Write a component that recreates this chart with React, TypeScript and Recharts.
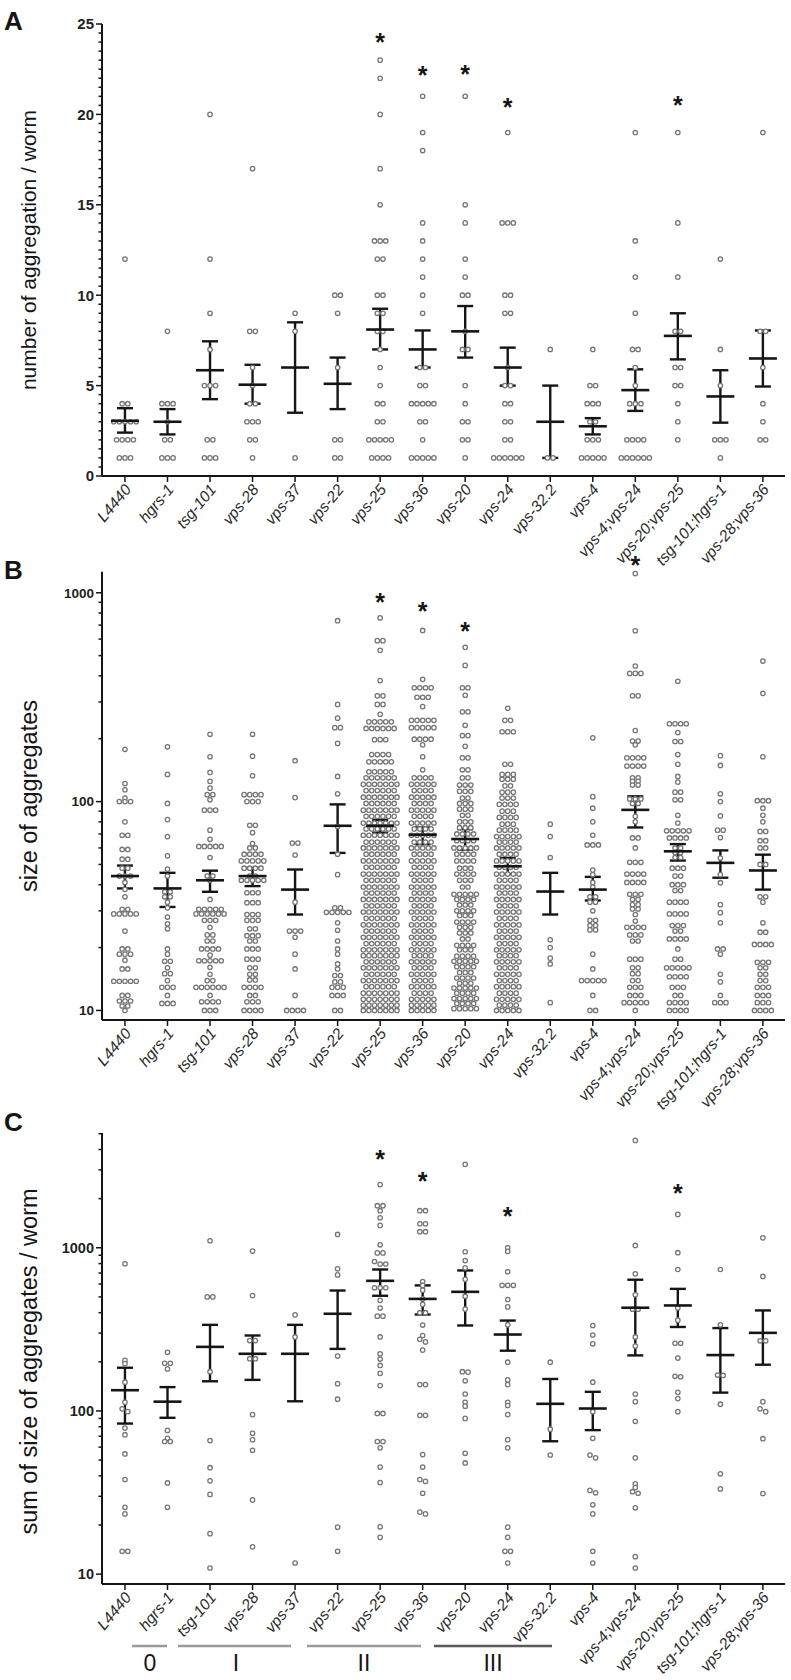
import React from "react";
import { ComposedChart, Scatter, XAxis, YAxis, ErrorBar, ReferenceLine } from "recharts";

const FONT = '"Liberation Sans", Arial, sans-serif';
const INK = "#151515";

const CATEGORIES = [
  "L4440", "hgrs-1", "tsg-101", "vps-28", "vps-37", "vps-22", "vps-25", "vps-36",
  "vps-20", "vps-24", "vps-32.2", "vps-4", "vps-4;vps-24", "vps-20;vps-25", "tsg-101;hgrs-1", "vps-28;vps-36",
];
const X_TICKS = CATEGORIES.map((_, i) => i + 1);
const X_DOMAIN: [number, number] = [0.46, 16.52];

type Row = [number, number]; // [value, how many dots at that value]

// ---- A: number of aggregation / worm ----
const A_L4440: Row[] = [[12, 1], [4, 2], [3, 5], [2, 4], [1, 3]];
const A_HGRS1: Row[] = [[8, 1], [4, 3], [3, 1], [2, 2], [1, 3]];
const A_TSG101: Row[] = [[20, 1], [12, 1], [9, 1], [7, 1], [5, 3], [2, 2], [1, 3]];
const A_VPS28: Row[] = [[17, 1], [8, 2], [6, 1], [5, 1], [4, 2], [3, 3], [2, 2], [1, 1]];
const A_VPS37: Row[] = [[9, 1], [8, 1], [1, 1]];
const A_VPS22: Row[] = [[10, 2], [9, 1], [6, 1], [2, 2], [1, 2]];
const A_VPS25: Row[] = [[23, 1], [22, 1], [20, 1], [17, 1], [15, 1], [13, 3], [12, 2], [10, 2], [9, 2], [8, 2], [7, 1], [6, 1], [5, 1], [4, 2], [3, 2], [2, 5], [1, 4]];
const A_VPS36: Row[] = [[21, 1], [19, 1], [18, 1], [14, 1], [13, 1], [12, 1], [11, 1], [10, 1], [9, 1], [6, 2], [5, 2], [4, 5], [3, 2], [2, 1], [1, 5]];
const A_VPS20: Row[] = [[21, 1], [15, 1], [14, 1], [12, 1], [11, 1], [10, 2], [8, 1], [7, 2], [5, 1], [4, 1], [3, 2], [2, 2], [1, 1]];
const A_VPS24: Row[] = [[19, 1], [14, 3], [10, 2], [9, 2], [6, 1], [5, 2], [4, 2], [3, 2], [2, 2], [1, 6]];
const A_VPS322: Row[] = [[7, 1], [1, 2]];
const A_VPS4: Row[] = [[7, 1], [5, 2], [4, 3], [3, 2], [2, 3], [1, 5]];
const A_V4V24: Row[] = [[19, 1], [13, 1], [11, 1], [9, 1], [7, 2], [6, 1], [5, 1], [4, 3], [2, 4], [1, 6]];
const A_V20V25: Row[] = [[19, 1], [14, 1], [11, 1], [8, 2], [6, 2], [5, 2], [4, 1], [3, 1], [2, 1]];
const A_TSGHGRS: Row[] = [[12, 1], [7, 1], [5, 1], [2, 3], [1, 1]];
const A_V28V36: Row[] = [[19, 1], [8, 2], [6, 1], [4, 1], [3, 1], [2, 2]];
const A_MEAN = [3.05, 3.0, 5.85, 5.05, 6.0, 5.1, 8.1, 7.0, 8.0, 6.0, 3.0, 2.75, 4.75, 7.75, 4.4, 6.5];
const A_SEM_LO = [2.4, 2.3, 4.25, 4.0, 3.5, 3.7, 7.0, 6.0, 6.55, 5.0, 1.0, 2.3, 3.6, 6.45, 2.95, 4.95];
const A_SEM_HI = [3.75, 3.7, 7.45, 6.15, 8.5, 6.55, 9.25, 8.05, 9.4, 7.1, 5.0, 3.2, 5.9, 9.0, 5.85, 8.05];
const A_STAR_CAT = [7, 8, 9, 10, 14];
const A_STAR_Y = [24.3, 22.45, 22.5, 20.7, 20.8];
const A_MAJOR = [0, 5, 10, 15, 20, 25];

// ---- B: size of aggregates ----
const B_L4440: Row[] = [[178, 1], [122, 1], [114, 1], [104, 1], [100, 3], [80, 1], [69, 2], [59, 2], [53, 2], [48, 2], [44, 3], [41, 1], [38, 1], [35, 1], [30.5, 2], [29, 5], [24, 1], [19.7, 2], [18.6, 3], [17.4, 1], [15.8, 2], [13.8, 5], [11.8, 2], [11.1, 3], [10.5, 2], [10, 1]];
const B_HGRS1: Row[] = [[183, 1], [135, 1], [98, 1], [82, 1], [68, 1], [55, 1], [47.5, 1], [44, 1], [37, 2], [35, 2], [33, 1], [31, 1], [28, 1], [26, 1], [24.6, 1], [19.7, 1], [18.6, 1], [17.2, 2], [16, 1], [15, 2], [13.9, 1], [12.9, 3], [11.8, 1], [10.8, 3]];
const B_TSG101: Row[] = [[210, 1], [164, 1], [138, 1], [125, 1], [116, 1], [108, 2], [102, 1], [91, 3], [73, 1], [66, 1], [61, 5], [54, 1], [44, 2], [42, 1], [34, 1], [30.5, 5], [29, 6], [27, 3], [25, 1], [23, 2], [21.5, 2], [19.7, 4], [18.4, 1], [17.3, 5], [16.1, 1], [14.9, 1], [13.9, 2], [12.9, 6], [11.8, 1], [11, 4], [10, 3]];
const B_VPS28: Row[] = [[210, 1], [165, 1], [133, 1], [108, 4], [100, 3], [77, 2], [71, 1], [63, 1], [60, 2], [56, 4], [52, 5], [48, 4], [44, 2], [42, 5], [36.6, 3], [32.8, 3], [28.8, 3], [27, 3], [24.6, 2], [22.8, 3], [21.5, 2], [19.7, 3], [17.6, 3], [16, 2], [14.9, 2], [14, 2], [12.9, 4], [11.8, 2], [11, 3], [10, 4]];
const B_VPS37: Row[] = [[157, 1], [104.5, 1], [63.3, 2], [55.5, 1], [33, 1], [24, 3], [22.4, 1], [18.6, 1], [15.8, 1], [11.8, 1], [10, 4]];
const B_VPS22: Row[] = [[735, 1], [292, 1], [251, 1], [226, 2], [190, 1], [132, 1], [109, 1], [76, 1], [56, 1], [44.7, 1], [31, 2], [29.5, 5], [26.3, 1], [24.2, 1], [21.5, 1], [19.7, 1], [18.6, 1], [16.7, 1], [15.8, 1], [14.7, 2], [13.7, 2], [12.9, 3], [11.8, 3], [10, 2]];
const B_VPS25: Row[] = [[758, 1], [590, 2], [530, 1], [380, 1], [321, 2], [292, 2], [262, 1], [241, 5], [224, 6], [198, 3], [168, 4], [155, 5], [139, 5], [130, 6], [121, 7], [113, 6], [105, 7], [98, 6], [91, 7], [85, 6], [79, 7], [74, 6], [69, 7], [64, 6], [60, 7], [56, 6], [52, 7], [48.5, 6], [45, 7], [42, 6], [39, 7], [36.5, 6], [34, 7], [31.7, 6], [29.6, 7], [27.6, 6], [25.7, 7], [24, 6], [22.4, 7], [20.9, 6], [19.5, 7], [18.3, 7], [17.1, 6], [16, 7], [14.9, 6], [13.9, 7], [13, 6], [12.1, 7], [11.3, 7], [10.6, 7], [10, 7]];
const B_VPS36: Row[] = [[660, 1], [385, 1], [351, 4], [316, 3], [285, 1], [245, 5], [226, 5], [199, 4], [187, 1], [164, 1], [142, 1], [130, 4], [121, 5], [113, 4], [105, 5], [98, 4], [91, 5], [85, 4], [79, 5], [74, 4], [69, 5], [64, 4], [60, 5], [56, 4], [52, 5], [48.5, 4], [45, 5], [42, 4], [39, 5], [36.5, 4], [34, 5], [31.7, 4], [29.6, 5], [27.6, 4], [25.7, 5], [24, 4], [22.4, 5], [20.9, 4], [19.5, 5], [18.3, 4], [17.1, 5], [16, 4], [14.9, 5], [13.9, 4], [13, 5], [12.1, 4], [11.3, 5], [10.6, 5], [10, 5]];
const B_VPS20: Row[] = [[548, 1], [449, 1], [351, 2], [323, 1], [269, 2], [232, 1], [207, 2], [184, 1], [162, 2], [142, 2], [130, 2], [120, 3], [112, 3], [104, 2], [98, 3], [92, 3], [86, 2], [80, 3], [75, 3], [70, 4], [65, 4], [60, 5], [56, 4], [52, 4], [48, 3], [45, 4], [42, 3], [39, 2], [36, 5], [34, 4], [32, 3], [30, 4], [28.5, 3], [26.5, 4], [25, 3], [23.5, 3], [22, 2], [20.5, 4], [19.5, 3], [18.2, 4], [17.2, 5], [16.2, 4], [15.2, 3], [14.3, 4], [13.5, 3], [12.8, 5], [12.1, 4], [11.4, 5], [10.8, 4], [10.2, 5]];
const B_VPS24: Row[] = [[280, 1], [245, 2], [216, 3], [151, 2], [135, 3], [128, 3], [119, 2], [111, 3], [104, 3], [97, 4], [90, 3], [84, 4], [78, 3], [73, 4], [68, 5], [64, 4], [60, 5], [56, 4], [52, 5], [48.5, 4], [45, 5], [42, 4], [39, 5], [36.5, 4], [34, 5], [31.7, 4], [29.6, 5], [27.6, 4], [25.7, 5], [24, 4], [22.4, 5], [20.9, 4], [19.5, 5], [18.3, 4], [17.1, 5], [16, 4], [14.9, 5], [13.9, 4], [13, 5], [12.1, 4], [11.3, 5], [10.6, 4], [10, 5]];
const B_VPS322: Row[] = [[78, 1], [68, 1], [54, 1], [21.8, 1], [20, 1], [17.8, 1], [16.7, 1], [10.9, 1]];
const B_VPS4: Row[] = [[202, 1], [105.6, 1], [93, 1], [80, 1], [69, 1], [62, 3], [47, 1], [44.7, 1], [41, 1], [39, 1], [35, 2], [33, 2], [30, 1], [27, 2], [25.5, 2], [24.3, 2], [18.6, 1], [15.8, 1], [13.9, 5], [11.8, 1], [10, 2]];
const B_V4V24: Row[] = [[1236, 1], [658, 1], [446, 1], [411, 3], [321, 2], [219, 1], [195, 2], [187, 1], [162, 4], [148, 4], [130, 2], [125, 2], [120, 2], [103, 3], [98, 2], [85, 1], [80, 1], [67, 2], [60, 1], [51.2, 3], [45, 4], [41, 4], [36, 3], [34, 2], [32.1, 2], [30.6, 2], [28.8, 1], [26.8, 1], [25, 4], [23, 3], [21.5, 2], [17.6, 3], [16, 2], [15, 2], [13.9, 2], [12.9, 3], [11.8, 3], [10.9, 5], [10, 1]];
const B_V20V25: Row[] = [[377, 1], [236, 4], [214, 1], [194, 2], [168, 1], [151, 1], [132, 1], [124, 1], [111, 2], [102, 2], [86, 1], [79, 1], [72.5, 5], [67, 4], [60, 2], [57, 2], [54, 2], [48, 3], [44, 2], [40, 3], [37.5, 2], [33, 4], [29, 4], [25.5, 3], [24, 2], [22, 4], [19.7, 1], [17.6, 2], [16, 5], [14.5, 4], [12.9, 3], [11.8, 2], [10.9, 4], [10, 4]];
const B_TSGHGRS: Row[] = [[166, 1], [149, 1], [109, 1], [100, 1], [85.4, 1], [73, 2], [67.3, 1], [53.7, 1], [44.7, 1], [40.9, 1], [32.1, 1], [29.4, 1], [26.3, 1], [19.7, 2], [18.6, 1], [14.9, 1], [13.7, 1], [11.8, 1], [10.9, 3]];
const B_V28V36: Row[] = [[471, 1], [330, 1], [164, 1], [101, 3], [93, 1], [86, 1], [80, 1], [72, 2], [65, 2], [60, 2], [50, 2], [35, 2], [33, 1], [26.3, 1], [23.7, 2], [20.7, 4], [17, 3], [16, 2], [14.9, 2], [13.9, 2], [12.9, 3], [11.8, 3], [10.9, 3], [10, 4]];
const B_MEAN = [44, 38.4, 42, 44, 37.9, 76.6, 76.6, 69.4, 66.2, 49, 37.1, 37.9, 91.3, 57.8, 50.9, 46.8];
const B_SEM_LO = [38.4, 31.3, 37, 39.4, 28.8, 56.8, 71, 62.6, 58.9, 45, 28.8, 33.6, 75.2, 52.2, 43.2, 37.9];
const B_SEM_HI = [49.4, 45.6, 46.7, 48.1, 47.3, 97, 81.8, 75.2, 73.8, 53.7, 45.6, 43.6, 106, 62.6, 58.4, 55.7];
const B_STAR_CAT = [7, 8, 9, 13];
const B_STAR_Y = [957, 867, 695, 1439];
const B_MAJOR = [10, 100, 1000];

// ---- C: sum of size of aggregates / worm ----
const C_L4440 = [798, 204, 195, 150, 113, 103, 99, 78.5, 71.5, 54.5, 38, 25.7, 23.4, 13.8, 13.8];
const C_HGRS1 = [229, 196, 196, 181, 76, 68, 65, 65, 36.2, 25.7];
const C_TSG101 = [1104, 500, 500, 174, 65.8, 44.9, 37.3, 30.8, 17.7, 10.9];
const C_VPS28 = [955, 509, 270, 270, 209, 209, 95, 73, 66.7, 57.4, 28.5, 14.7];
const C_VPS37 = [388, 284, 11.7];
const C_VPS22 = [1207, 743, 682, 217, 147, 118, 19.4, 13.8];
const C_VPS25 = [2440, 1811, 1811, 1687, 1527, 1371, 1043, 930, 930, 824, 795, 795, 569, 569, 569, 476, 427, 381, 381, 284, 224, 208, 190, 170, 143, 96.5, 96.5, 65, 65, 59.4, 45.3, 36.4, 19.5, 16.8];
const C_VPS36 = [1687, 1687, 1403, 1403, 1254, 1254, 621, 588, 550, 486, 450, 400, 400, 336, 290, 275, 265, 236, 145, 145, 94, 94, 54, 45.3, 38, 37, 31.3, 24, 23.4];
const C_VPS20 = [3245, 945, 835, 753, 641, 505, 421, 174, 173, 153, 127, 113, 107, 90, 55, 48];
const C_VPS24 = [1000, 950, 713, 589, 589, 589, 482, 434, 337, 199, 155, 145, 113, 108, 95, 66.7, 59.4, 19.4, 16.8, 13.8, 13.8, 11.7];
const C_VPS322 = [199, 77.3, 53.7];
const C_VPS4 = [334, 292, 258, 150, 99, 68, 53.7, 51.6, 32.6, 31.5, 26.6, 23.4, 13.8, 11.7];
const C_V4V24 = [4550, 1033, 692, 515, 420, 420, 284, 250, 127, 114, 86.4, 51.6, 35.8, 34, 32, 31.3, 25.5, 12.8, 10.9];
const C_V20V25 = [1601, 933, 736, 428, 360, 260, 260, 211, 163, 162, 130, 119, 99];
const C_TSGHGRS = [736, 337, 166, 165, 110, 41.2, 33.3];
const C_V28V36 = [1150, 667, 269, 269, 114, 103, 99, 67.6, 31.2];
const C_MEAN = [134, 114, 247, 224, 224, 394, 627, 486, 537, 294, 110.6, 103.5, 429, 443, 220, 301];
const C_SEM_LO = [83.7, 90.8, 152, 155, 114.6, 240, 508, 390, 334, 234, 65.2, 76.3, 219, 327, 129.5, 192];
const C_SEM_HI = [184, 140, 337, 290, 337, 547, 736, 588, 726, 358, 157, 131, 637, 560, 322, 413];
const C_STAR_CAT = [7, 8, 10, 14];
const C_STAR_Y = [3778, 2767, 1670, 2333];
const C_MAJOR = [10, 100, 1000];

const GROUP_LABELS = ["0", "I", "II", "III"];

// ---- helpers ----
type Pt = { x: number; y: number };
type MeanPt = { x: number; y: number; err: [number, number] };
const STEP = 0.132; // horizontal dot spacing in category units

// spread dots that share (nearly) the same height side by side
function swarm(cols: Row[][], toPx: (v: number) => number): Pt[] {
  const out: Pt[] = [];
  cols.forEach((rows, i) => {
    const vals = rows.flatMap(([v, n]) => Array.from({ length: n }, () => v)).sort((a, b) => b - a);
    let group: number[] = [];
    const flush = () => {
      group.forEach((v, k) => out.push({ x: i + 1 + (k - (group.length - 1) / 2) * STEP, y: v }));
      group = [];
    };
    for (const v of vals) {
      if (group.length && toPx(group[0]) - toPx(v) > 3) flush();
      group.push(v);
    }
    flush();
  });
  return out;
}

const meanPts = (m: number[], lo: number[], hi: number[]): MeanPt[] =>
  m.map((y, i) => ({ x: i + 1, y, err: [y - lo[i], hi[i] - y] }));
const starPts = (cat: number[], ys: number[]): Pt[] => cat.map((c, i) => ({ x: c, y: ys[i] }));
const logTicks = (max: number) => {
  const t: number[] = [];
  for (let d = 10; d <= max; d *= 10) for (let k = 1; k <= 9; k++) if (k * d <= max) t.push(k * d);
  return t;
};

const A_DOTS = swarm(
  [A_L4440, A_HGRS1, A_TSG101, A_VPS28, A_VPS37, A_VPS22, A_VPS25, A_VPS36, A_VPS20, A_VPS24, A_VPS322, A_VPS4, A_V4V24, A_V20V25, A_TSGHGRS, A_V28V36],
  (v) => v * 18.08
);
const B_DOTS = swarm(
  [B_L4440, B_HGRS1, B_TSG101, B_VPS28, B_VPS37, B_VPS22, B_VPS25, B_VPS36, B_VPS20, B_VPS24, B_VPS322, B_VPS4, B_V4V24, B_V20V25, B_TSGHGRS, B_V28V36],
  (v) => Math.log10(v) * 209
);
const C_DOTS = swarm(
  [C_L4440, C_HGRS1, C_TSG101, C_VPS28, C_VPS37, C_VPS22, C_VPS25, C_VPS36, C_VPS20, C_VPS24, C_VPS322, C_VPS4, C_V4V24, C_V20V25, C_TSGHGRS, C_V28V36].map(
    (vals) => vals.map((v) => [v, 1] as Row)
  ),
  (v) => Math.log10(v) * 163
);

// ---- marks ----
const Dot = (s: any) => <circle cx={s.cx} cy={s.cy} r={2.2} fill="#ffffff" stroke="#767676" strokeWidth={1.3} />;
const MeanMark = (s: any) => <line x1={s.cx - 14} x2={s.cx + 14} y1={s.cy} y2={s.cy} stroke={INK} strokeWidth={2.6} />;
const Star = (s: any) => (
  <text x={s.cx} y={s.cy + 14} textAnchor="middle" fontSize={25} fontWeight="bold" fill={INK}>
    *
  </text>
);

function XTick(t: any) {
  const ax = t.x + 7;
  const ay = t.y + 8;
  return (
    <text x={ax} y={ay} textAnchor="end" transform={`rotate(-50, ${ax}, ${ay})`} fontSize={15.5} fontStyle="italic" fill="#2a2a2a">
      {CATEGORIES[t.payload.value - 1]}
    </text>
  );
}

function YTick(t: any) {
  const major = t.majors.includes(t.payload.value);
  return (
    <g>
      <line x1={t.x - (major ? 6 : 3.5)} x2={t.x} y1={t.y} y2={t.y} stroke={INK} strokeWidth={1.5} />
      {major && (
        <text x={t.x - 8} y={t.y} dy="0.36em" textAnchor="end" fontSize={t.fontSize} fontWeight="bold" fill="#222">
          {t.payload.value}
        </text>
      )}
    </g>
  );
}

type PanelProps = {
  top: number;
  height: number;
  marginTop: number;
  xAxisHeight: number;
  dots: Pt[];
  means: MeanPt[];
  stars: Pt[];
  domain: [number, number];
  log: boolean;
  ticks: number[];
  majors: number[];
  tickFont: number;
  title: string;
  titleSize: number;
  titleDy: number;
  axisTop?: number;
};

function Panel(p: PanelProps) {
  return (
    <div style={{ position: "absolute", left: 0, top: p.top }}>
      <ComposedChart width={791} height={p.height} margin={{ top: p.marginTop, right: 6, bottom: 0, left: 0 }}>
        <XAxis
          type="number"
          dataKey="x"
          domain={X_DOMAIN}
          ticks={X_TICKS}
          interval={0}
          height={p.xAxisHeight}
          tickSize={6}
          tickMargin={0}
          axisLine={{ stroke: INK, strokeWidth: 2 }}
          tickLine={{ stroke: INK, strokeWidth: 1.5 }}
          tick={(t: any) => <XTick {...t} />}
        />
        <YAxis
          type="number"
          dataKey="y"
          scale={p.log ? "log" : "linear"}
          domain={p.domain}
          ticks={p.ticks}
          interval={0}
          width={102}
          tickSize={0}
          tickMargin={0}
          tickLine={false}
          axisLine={p.axisTop ? false : { stroke: INK, strokeWidth: 2 }}
          tick={(t: any) => <YTick {...t} majors={p.majors} fontSize={p.tickFont} />}
          label={{ value: p.title, angle: -90, position: "center", dx: -22, dy: p.titleDy, fontSize: p.titleSize, fill: INK }}
        />
        {p.axisTop ? (
          <ReferenceLine
            segment={[
              { x: X_DOMAIN[0], y: p.domain[0] },
              { x: X_DOMAIN[0], y: p.axisTop },
            ]}
            stroke={INK}
            strokeWidth={2}
          />
        ) : null}
        <Scatter data={p.dots} isAnimationActive={false} shape={Dot} />
        <Scatter data={p.means} isAnimationActive={false} shape={MeanMark}>
          <ErrorBar dataKey="err" direction="y" width={8} stroke={INK} strokeWidth={2.4} />
        </Scatter>
        <Scatter data={p.stars} isAnimationActive={false} shape={Star} />
      </ComposedChart>
    </div>
  );
}

export default function App() {
  const aTicks = Array.from({ length: 51 }, (_, i) => i * 0.5);
  return (
    <div style={{ position: "absolute", left: 0, top: 0, width: 791, height: 1680, background: "#fff", fontFamily: FONT }}>
      <Panel
        top={0}
        height={580}
        marginTop={24}
        xAxisHeight={104}
        dots={A_DOTS}
        means={meanPts(A_MEAN, A_SEM_LO, A_SEM_HI)}
        stars={starPts(A_STAR_CAT, A_STAR_Y)}
        domain={[0, 25]}
        log={false}
        ticks={aTicks}
        majors={A_MAJOR}
        tickFont={15}
        title="number of aggregation / worm"
        titleSize={21}
        titleDy={0}
      />
      <Panel
        top={540}
        height={580}
        marginTop={16}
        xAxisHeight={100}
        dots={B_DOTS}
        means={meanPts(B_MEAN, B_SEM_LO, B_SEM_HI)}
        stars={starPts(B_STAR_CAT, B_STAR_Y)}
        domain={[9, 1500]}
        log
        ticks={logTicks(1000)}
        majors={B_MAJOR}
        tickFont={13.5}
        title="size of aggregates"
        titleSize={23.5}
        titleDy={8}
        axisTop={1260}
      />
      <Panel
        top={1120}
        height={560}
        marginTop={13}
        xAxisHeight={96}
        dots={C_DOTS}
        means={meanPts(C_MEAN, C_SEM_LO, C_SEM_HI)}
        stars={starPts(C_STAR_CAT, C_STAR_Y)}
        domain={[8.7, 5050]}
        log
        ticks={logTicks(5000)}
        majors={C_MAJOR}
        tickFont={14.5}
        title="sum of size of aggregates / worm"
        titleSize={23.5}
        titleDy={3}
      />
      <svg width={791} height={1680} style={{ position: "absolute", left: 0, top: 0, pointerEvents: "none" }}>
        <text x={4} y={30} fontSize={26} fontWeight="bold" fill={INK}>A</text>
        <text x={4} y={579} fontSize={26} fontWeight="bold" fill={INK}>B</text>
        <text x={4} y={1131} fontSize={26} fontWeight="bold" fill={INK}>C</text>
        <line x1={132} x2={167} y1={1646} y2={1646} stroke="#9a9a9a" strokeWidth={2.5} />
        <line x1={178} x2={291} y1={1646} y2={1646} stroke="#9a9a9a" strokeWidth={2.5} />
        <line x1={307} x2={421} y1={1646} y2={1646} stroke="#9a9a9a" strokeWidth={2.5} />
        <line x1={434} x2={552} y1={1646} y2={1646} stroke="#5a5a5a" strokeWidth={2.5} />
        <text x={150} y={1671} fontSize={23} textAnchor="middle" fill={INK}>{GROUP_LABELS[0]}</text>
        <text x={236} y={1671} fontSize={23} textAnchor="middle" fill={INK}>{GROUP_LABELS[1]}</text>
        <text x={364} y={1671} fontSize={23} textAnchor="middle" fill={INK}>{GROUP_LABELS[2]}</text>
        <text x={493} y={1671} fontSize={23} textAnchor="middle" fill={INK}>{GROUP_LABELS[3]}</text>
      </svg>
    </div>
  );
}
